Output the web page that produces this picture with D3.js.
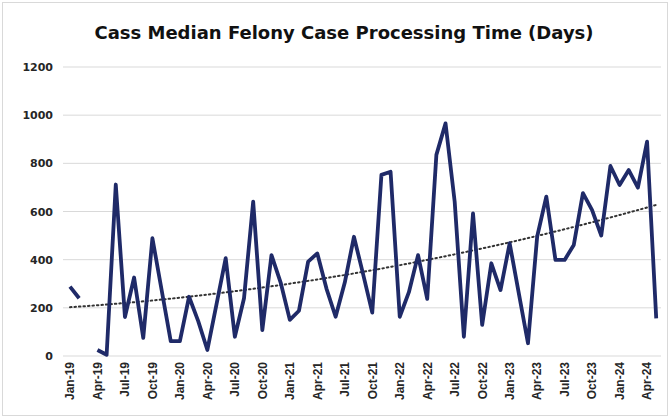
<!DOCTYPE html>
<html>
<head>
<meta charset="utf-8">
<script src="https://cdn.jsdelivr.net/npm/d3@7"></script>
<style>
  body { margin: 0; background: #fff; }
</style>
</head>
<body>
<div id="chart"></div>
<script>
// Months on the category axis
var months = ["Jan-19","Feb-19","Mar-19","Apr-19","May-19","Jun-19","Jul-19","Aug-19","Sep-19","Oct-19","Nov-19","Dec-19",
  "Jan-20","Feb-20","Mar-20","Apr-20","May-20","Jun-20","Jul-20","Aug-20","Sep-20","Oct-20","Nov-20","Dec-20",
  "Jan-21","Feb-21","Mar-21","Apr-21","May-21","Jun-21","Jul-21","Aug-21","Sep-21","Oct-21","Nov-21","Dec-21",
  "Jan-22","Feb-22","Mar-22","Apr-22","May-22","Jun-22","Jul-22","Aug-22","Sep-22","Oct-22","Nov-22","Dec-22",
  "Jan-23","Feb-23","Mar-23","Apr-23","May-23","Jun-23","Jul-23","Aug-23","Sep-23","Oct-23","Nov-23","Dec-23",
  "Jan-24","Feb-24","Mar-24","Apr-24","May-24"];

// Median days (null = no value that month)
var days = [288, 240, null, 25, 5, 712, 162, 326, 75, 489, 275, 62,
  62, 246, 145, 25, 215, 406, 80, 240, 641, 108, 419, 305,
  150, 188, 392, 426, 280, 163, 305, 495, 340, 180, 752, 765,
  163, 265, 419, 237, 835, 966, 640, 80, 592, 129, 385, 274,
  468, 260, 53, 495, 662, 399, 399, 461, 676, 606, 500, 789,
  710, 772, 699, 890, 156];

var xTickLabels = ["Jan-19","Apr-19","Jul-19","Oct-19","Jan-20","Apr-20","Jul-20","Oct-20",
  "Jan-21","Apr-21","Jul-21","Oct-21","Jan-22","Apr-22","Jul-22","Oct-22",
  "Jan-23","Apr-23","Jul-23","Oct-23","Jan-24","Apr-24"];
var yTicks = [0, 200, 400, 600, 800, 1000, 1200];

var W = 670, H = 418;

var svg = d3.select("#chart").append("svg")
  .attr("width", W)
  .attr("height", H);

// chart frame
svg.append("rect")
  .attr("x", 2.5).attr("y", 2.5)
  .attr("width", W - 5).attr("height", H - 5)
  .attr("fill", "#fff")
  .attr("stroke", "#d9d9d9");

// Title
svg.append("text")
  .attr("x", 344)
  .attr("y", 39)
  .attr("text-anchor", "middle")
  .style("font-family", "'DejaVu Sans', sans-serif")
  .style("font-weight", "bold")
  .style("font-size", "18px")
  .style("fill", "#111")
  .text("Cass Median Felony Case Processing Time (Days)");

var x = d3.scaleBand()
  .domain(months)
  .range([65.4, 660.8])
  .padding(0);

var cx = function(m) { return x(m) + x.bandwidth() / 2; };

var y = d3.scaleLinear()
  .domain([0, 1200])
  .range([356, 67]);

// Gridlines
svg.append("g")
  .selectAll("line")
  .data(yTicks)
  .enter()
  .append("line")
    .attr("x1", 63)
    .attr("x2", 661)
    .attr("y1", function(d) { return y(d); })
    .attr("y2", function(d) { return y(d); })
    .attr("stroke", "#d9d9d9")
    .attr("stroke-width", 1);

// Y axis labels
var yAxis = svg.append("g")
  .attr("transform", "translate(57,0)")
  .call(d3.axisLeft(y).tickValues(yTicks).tickFormat(d3.format("d")).tickSize(0).tickPadding(4));
yAxis.select(".domain").remove();
yAxis.selectAll("text")
  .style("font-family", "'DejaVu Sans', sans-serif")
  .style("font-weight", "bold")
  .style("font-size", "11px")
  .style("fill", "#262626");

// X axis labels (every 3rd month)
var xAxis = svg.append("g")
  .attr("transform", "translate(0,356)")
  .call(d3.axisBottom(x).tickValues(xTickLabels).tickSize(0));
xAxis.select(".domain").remove();
xAxis.selectAll(".tick").attr("transform", function(d) { return "translate(" + cx(d) + ",0)"; });
xAxis.selectAll("text")
  .attr("transform", "rotate(-90)")
  .attr("text-anchor", "end")
  .attr("x", -6)
  .attr("y", 0)
  .attr("dy", "0.36em")
  .style("font-family", "'Liberation Sans', Arial, sans-serif")
  .style("font-weight", "bold")
  .style("font-size", "12px")
  .style("fill", "#262626");

// Data points
var data = months.map(function(m, i) { return {m: m, i: i, v: days[i]}; });
var valid = data.filter(function(d) { return d.v !== null; });

// Trendline: least squares quadratic fit of the data
function fitQuad(pts) {
  var s = [0,0,0,0,0], t = [0,0,0];
  pts.forEach(function(p) {
    var xp = 1;
    for (var k = 0; k < 5; k++) { s[k] += xp; if (k < 3) t[k] += xp * p.v; xp *= p.i; }
  });
  var A = [[s[0], s[1], s[2], t[0]], [s[1], s[2], s[3], t[1]], [s[2], s[3], s[4], t[2]]];
  for (var c = 0; c < 3; c++) {
    for (var r = c + 1; r < 3; r++) {
      var f = A[r][c] / A[c][c];
      for (var k = c; k < 4; k++) A[r][k] -= f * A[c][k];
    }
  }
  var b = [0,0,0];
  for (var r = 2; r >= 0; r--) {
    var sum = A[r][3];
    for (var k = r + 1; k < 3; k++) sum -= A[r][k] * b[k];
    b[r] = sum / A[r][r];
  }
  return function(i) { return b[0] + b[1] * i + b[2] * i * i; };
}
var trend = fitQuad(valid);

var trendLine = d3.line()
  .x(function(d) { return cx(d.m); })
  .y(function(d) { return y(trend(d.i)); });

svg.append("path")
  .datum(data)
  .attr("d", trendLine)
  .attr("fill", "none")
  .attr("stroke", "#333")
  .attr("stroke-width", 2)
  .attr("stroke-dasharray", "1.5,3")
  .attr("stroke-linecap", "round");

// Main line
var line = d3.line()
  .defined(function(d) { return d.v !== null; })
  .x(function(d) { return cx(d.m); })
  .y(function(d) { return y(d.v); });

svg.append("path")
  .datum(data)
  .attr("d", line)
  .attr("fill", "none")
  .attr("stroke", "#1f2a68")
  .attr("stroke-width", 3.8)
  .attr("stroke-linejoin", "round");
</script>
</body>
</html>
